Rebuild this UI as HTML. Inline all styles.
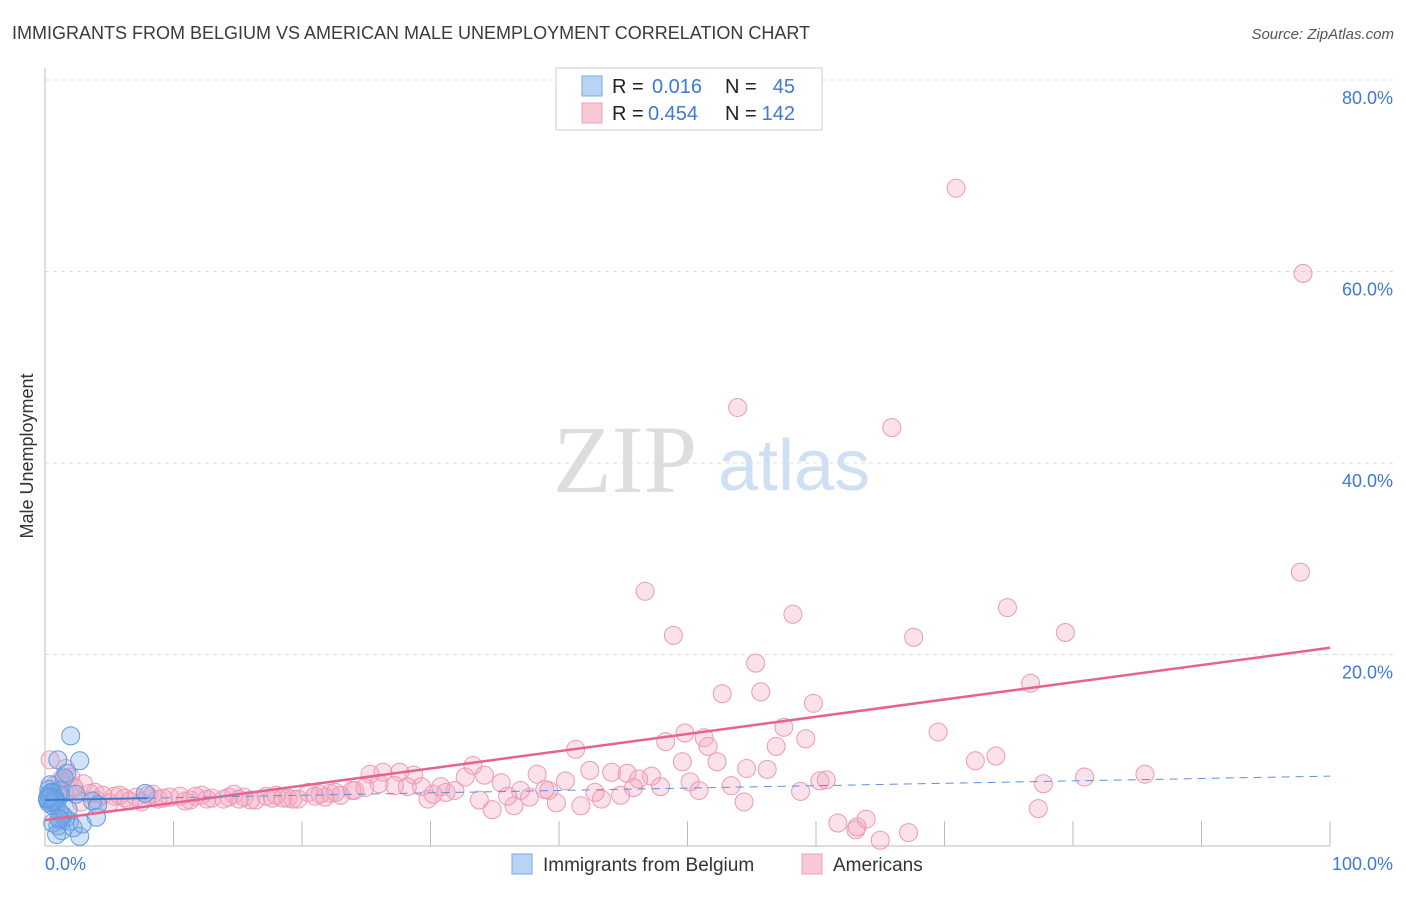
<!DOCTYPE html>
<html><head><meta charset="utf-8"><style>
body{margin:0;background:#fff;font-family:"Liberation Sans",sans-serif;}
svg text{font-family:"Liberation Sans",sans-serif;}
</style></head><body>
<svg id="c" width="1406" height="892" xmlns="http://www.w3.org/2000/svg">
<text x="12" y="39" font-size="18" fill="#3a3a3a">IMMIGRANTS FROM BELGIUM VS AMERICAN MALE UNEMPLOYMENT CORRELATION CHART</text>
<text x="1394" y="39" font-size="15" fill="#555" text-anchor="end" font-style="italic">Source: ZipAtlas.com</text>
<text transform="translate(33,456) rotate(-90)" font-size="18" fill="#333" text-anchor="middle">Male Unemployment</text>
<text x="553" y="492" font-size="96" fill="#ddd" style="font-family:'Liberation Serif',serif">ZIP</text>
<text x="718" y="490" font-size="72" fill="#cfe0f4">atlas</text>
<g id="grid"></g>
<g id="pts"></g>
<g id="lines"></g>
<g>
<rect x="556" y="68" width="266" height="62" fill="#fff" stroke="#ccc"/>
<rect x="582" y="76" width="20" height="20" fill="#b8d3f5" stroke="#7aaae6"/>
<rect x="582" y="103" width="20" height="20" fill="#fac8d6" stroke="#eea0ba"/>
<text x="612" y="93" font-size="20" fill="#222">R =</text>
<text x="652" y="93" font-size="20" fill="#3f78d6">0.016</text>
<text x="725" y="93" font-size="20" fill="#222">N =</text>
<text x="795" y="93" font-size="20" fill="#3f78d6" text-anchor="end">45</text>
<text x="612" y="120" font-size="20" fill="#222">R =</text>
<text x="648" y="120" font-size="20" fill="#3f78d6">0.454</text>
<text x="725" y="120" font-size="20" fill="#222">N =</text>
<text x="795" y="120" font-size="20" fill="#3f78d6" text-anchor="end">142</text>
</g>
<g>
<rect x="512" y="854" width="20" height="20" fill="#b8d3f5" stroke="#7aaae6"/>
<text x="543" y="871" font-size="19" fill="#333">Immigrants from Belgium</text>
<rect x="802" y="854" width="20" height="20" fill="#fac8d6" stroke="#eea0ba"/>
<text x="833" y="871" font-size="19" fill="#333">Americans</text>
</g>
</svg>
<script>
const yTicks=[20,40,60,80];
const yTickLabels=["20.0%","40.0%","60.0%","80.0%"];
const xTickCount=10;
const pinkX=[70.9,97.9,53.9,65.9,46.7,97.7,48.9,58.2,67.6,74.9,79.4,55.3,52.7,55.7,59.8,76.7,57.5,59.2,49.8,51.3,48.3,51.6,56.9,69.5,41.3,74.0,72.4,33.3,49.6,52.3,54.6,56.2,85.6,80.9,77.7,60.3,60.8,42.4,44.1,45.3,47.2,38.3,40.5,47.9,50.2,50.9,53.4,58.8,54.4,77.3,61.7,63.1,63.9,63.2,65.0,67.2,34.8,36.5,37.7,39.8,41.7,43.3,44.8,29.8,31.9,32.7,34.2,35.5,37.0,39.2,27.6,28.7,26.3,25.3,24.9,27.2,29.3,30.8,31.2,
0.4,1.6,1.2,2.3,3.9,1.0,2.0,3.0,4.5,5.4,6.2,7.1,8.0,8.8,9.7,10.5,11.3,12.2,13.0,13.9,14.7,15.5,16.4,17.2,18.0,18.9,19.7,20.5,21.4,22.2,23.0,23.9,2.8,4.0,5.0,6.6,7.5,9.2,10.9,12.6,14.3,16.0,17.7,19.3,21.0,22.6,24.1,3.5,5.8,8.4,11.7,15.1,18.5,21.8,2.2,1.5,0.8,26.0,28.2,30.2,33.8,36.0,38.9,42.8,46.2,45.8];
const pinkY=[68.7,59.8,45.8,43.7,26.6,28.6,22.0,24.2,21.8,24.9,22.3,19.1,15.9,16.1,14.9,17.0,12.4,11.2,11.8,11.3,10.9,10.4,10.4,11.9,10.1,9.4,8.9,8.4,8.8,8.8,8.1,8.0,7.5,7.2,6.5,6.8,6.9,7.9,7.7,7.6,7.3,7.5,6.8,6.2,6.7,5.8,6.3,5.7,4.6,3.9,2.4,1.7,2.8,2.0,0.6,1.4,3.8,4.2,5.1,4.5,4.2,4.9,5.3,4.9,5.8,7.2,7.4,6.6,5.8,5.8,7.7,7.4,7.7,7.5,6.1,6.3,6.2,6.2,5.6,
9.0,8.1,6.9,6.0,5.6,5.4,7.2,6.5,5.3,5.2,5.0,5.1,5.3,4.9,5.1,5.2,4.8,5.3,5.0,4.9,5.4,5.1,4.8,5.2,5.3,5.0,4.9,5.6,5.4,5.5,5.3,5.8,4.6,4.8,4.5,4.7,4.6,5.0,4.7,4.9,5.1,4.8,5.0,4.9,5.2,5.6,5.8,5.5,5.3,5.4,5.2,4.9,5.0,5.1,6.2,5.7,6.4,6.5,6.2,5.4,4.8,5.2,5.9,5.6,7.0,6.1];
const blueX=[2.0,2.7,1.0,1.7,1.5,0.4,0.3,0.6,0.8,0.2,1.2,0.8,1.6,1.3,1.9,2.7,4.0,3.7,7.8,1.2,0.4,0.2,0.5,0.7,0.9,0.3,0.6,1.1,1.4,0.5,0.8,0.3,1.0,0.6,1.3,2.2,2.9,0.4,0.7,1.8,1.1,0.9,0.2,2.4,4.1];
const blueY=[11.5,8.9,9.0,7.6,7.1,6.4,5.9,5.5,5.0,4.8,5.3,4.6,2.9,2.7,2.6,1.0,3.0,4.7,5.5,5.8,5.2,4.9,4.6,5.0,4.4,5.4,4.2,3.6,3.2,5.6,4.9,4.5,2.1,2.4,1.6,1.9,2.3,5.1,4.7,3.8,2.8,1.2,5.0,5.4,4.3];
const pinkTrend=[2.7,20.7];
const blueTrend=[4.8,7.3];
const X0=45,X1=1330,Y0=846,YS=191.5/20;
const sx=v=>X0+(X1-X0)*v/100, sy=v=>Y0-v*YS;
const NS="http://www.w3.org/2000/svg";
function mk(t,a,p){const e=document.createElementNS(NS,t);for(const k in a)e.setAttribute(k,a[k]);p.appendChild(e);return e;}
const g=document.getElementById('grid');
yTicks.forEach((t,i)=>{
 const l=mk('line',{x1:X0,x2:1394,y1:sy(t),y2:sy(t),stroke:'#ddd','stroke-dasharray':'4,4'},g);
 
 
 const tx=mk('text',{x:1393,y:sy(t)+24,'font-size':18,fill:'#3f78d6','text-anchor':'end'},g);
 tx.textContent=yTickLabels[i];
 
 
});
const ax=mk('line',{x1:X0,x2:X0,y1:68,y2:Y0,stroke:'#bbb'},g);


const bx=mk('line',{x1:X0,x2:X1,y1:Y0,y2:Y0,stroke:'#bbb'},g);


for(let i=1;i<=xTickCount;i++){const x=sx(i*100/xTickCount);
 const t=mk('line',{x1:x,x2:x,y1:Y0-25,y2:Y0,stroke:'#bbb'},g);
 
 }
const xl=mk('text',{x:45,y:870,'font-size':18,fill:'#3f78d6'},g);xl.textContent='0.0%';


const xr=mk('text',{x:1393,y:870,'font-size':18,fill:'#3f78d6','text-anchor':'end'},g);xr.textContent='100.0%';


const p=document.getElementById('pts');
pinkX.forEach((v,i)=>{const c=mk('circle',{cx:sx(v),cy:sy(pinkY[i]),r:9,fill:'rgba(244,165,192,0.33)',stroke:'#eb9ab5','stroke-width':1},p);
 
 });
blueX.forEach((v,i)=>{const c=mk('circle',{cx:sx(v),cy:sy(blueY[i]),r:9,fill:'rgba(120,170,232,0.33)',stroke:'#5f9ae0','stroke-width':1},p);
 
 });
const L=document.getElementById('lines');
const pl=mk('line',{x1:sx(0),y1:sy(pinkTrend[0]),x2:sx(100),y2:sy(pinkTrend[1]),stroke:'#e8628e','stroke-width':2.5},L);


const bs=(blueTrend[1]-blueTrend[0])/100;
const b1=mk('line',{x1:sx(0),y1:sy(blueTrend[0]),x2:sx(8),y2:sy(blueTrend[0]+bs*8),stroke:'#3f78d6','stroke-width':2},L);


const b2=mk('line',{x1:sx(8),y1:sy(blueTrend[0]+bs*8),x2:sx(100),y2:sy(blueTrend[1]),stroke:'#5f8fd8','stroke-width':1,'stroke-dasharray':'8,6'},L);


</script>
</body></html>
